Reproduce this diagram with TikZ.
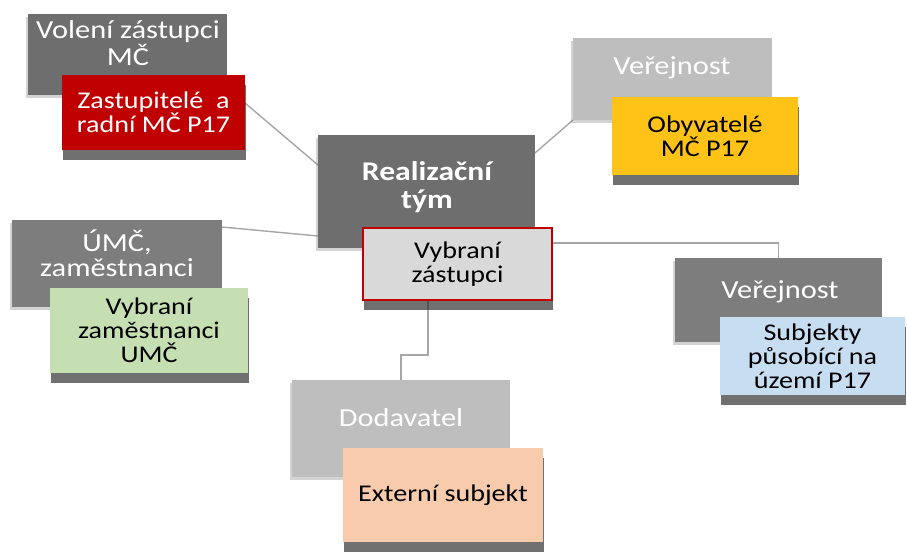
\documentclass[tikz,border=0pt]{standalone}
\usepackage{fontspec}
\setmainfont{Carlito}[FakeStretch=1.17]
\usetikzlibrary{shadows,backgrounds}

\definecolor{boxdark}{HTML}{6E6E6E}
\definecolor{boxmid}{HTML}{7D7D7D}
\definecolor{boxlight}{HTML}{BEBEBE}
\definecolor{redbox}{HTML}{C00000}
\definecolor{yellowbox}{HTML}{FFC318}
\definecolor{greenbox}{HTML}{C5DFB3}
\definecolor{bluebox}{HTML}{C6DDF2}
\definecolor{peachbox}{HTML}{F8CBAD}
\definecolor{teambox}{HTML}{D9D9D9}
\definecolor{linkgray}{HTML}{A6A6A6}

\tikzset{
  box/.style={rectangle, inner sep=0pt, outer sep=0pt, anchor=north west, align=center},
  greybox/.style={box, fill=#1, drop shadow={shadow xshift=-1pt, shadow yshift=-1.5pt, opacity=.35}},
  greytext/.style={text=white, align=center, font=\fontsize{13}{12.5}\selectfont},
  pinbox/.style={box, fill=#1, font=\fontsize{12}{12}\selectfont,
    drop shadow={shadow xshift=.5pt, shadow yshift=-5pt, opacity=.7, fill=black!80}},
  link/.style={draw=linkgray, line width=.7pt}
}

\begin{document}
\begin{tikzpicture}[x=0.5pt,y=-0.5pt]
  \useasboundingbox (0,0) rectangle (907,559);

  % Volen\'i z\'astupci
  \node[greybox=boxdark, minimum width=99.5pt, minimum height=40.5pt] (vol) at (28,14) {};
  \node[greytext] (vol-t) at (128,43) {Volení zástupci\\MČ};
  \node[pinbox=redbox, text=white, minimum width=91.5pt, minimum height=37.5pt] (zast) at (62,75) {Zastupitelé~ a\\radní MČ P17};

  % Ve\v{r}ejnost -- obyvatel\'e
  \node[greybox=boxlight, minimum width=99.5pt, minimum height=41pt] (ver1) at (573,38) {};
  \node[greytext] (ver1-t) at (672,68) {Veřejnost};
  \node[pinbox=yellowbox, minimum width=93pt, minimum height=39pt] (obyv) at (612,97) {Obyvatelé\\MČ P17};

  % \'UM\v{C}
  \node[greybox=boxmid, minimum width=105pt, minimum height=43.5pt] (umc) at (12,220) {};
  \node[greytext] (umc-t) at (117,253) {ÚMČ,\\zaměstnanci};
  \node[pinbox=greenbox, minimum width=99pt, minimum height=42.5pt] (vybzam) at (50,288) {Vybraní\\zaměstnanci\\UMČ};

  % realiza\v{c}n\'i t\'ym
  \node[greybox=boxdark, minimum width=108.5pt, minimum height=56.5pt] (real) at (318,135) {};
  \node[greytext, font=\fontsize{13.5}{14}\selectfont\bfseries] (real-t) at (427,187) {Realizační\\tým};
  \node[pinbox=teambox, draw=redbox, line width=.8pt, minimum width=94.5pt, minimum height=36pt] (vybz) at (363,228) {Vybraní\\zástupci};

  % Ve\v{r}ejnost -- subjekty
  \node[greybox=boxmid, minimum width=103.5pt, minimum height=42pt] (ver2) at (675,258) {};
  \node[greytext] (ver2-t) at (780,292) {Veřejnost};
  \node[pinbox=bluebox, minimum width=92.5pt, minimum height=39pt] (subj) at (720,317) {Subjekty\\působící na\\území P17};

  % Dodavatel
  \node[greybox=boxlight, minimum width=109pt, minimum height=48.5pt] (dod) at (292,380) {};
  \node[greytext] (dod-t) at (401,418) {Dodavatel};
  \node[pinbox=peachbox, minimum width=100pt, minimum height=47pt] (ext) at (343,448) {Externí subjekt};

  \begin{scope}[on background layer]
    \draw[link] ([yshift=4.75pt]zast.east) -- ([yshift=13.25pt]real.west);
    \draw[link] ([yshift=19.25pt]real.east) -- (ver1.south west);
    \draw[link] ([yshift=18.25pt]umc.east) -- ([yshift=6pt]real.south west);
    \draw[link] ([yshift=10.5pt]vybz.east) -| (ver2.north);
    \draw[link] ([xshift=-14.75pt]vybz.south) -- ++(0,55) -| (dod.north);
  \end{scope}

\end{tikzpicture}
\end{document}
